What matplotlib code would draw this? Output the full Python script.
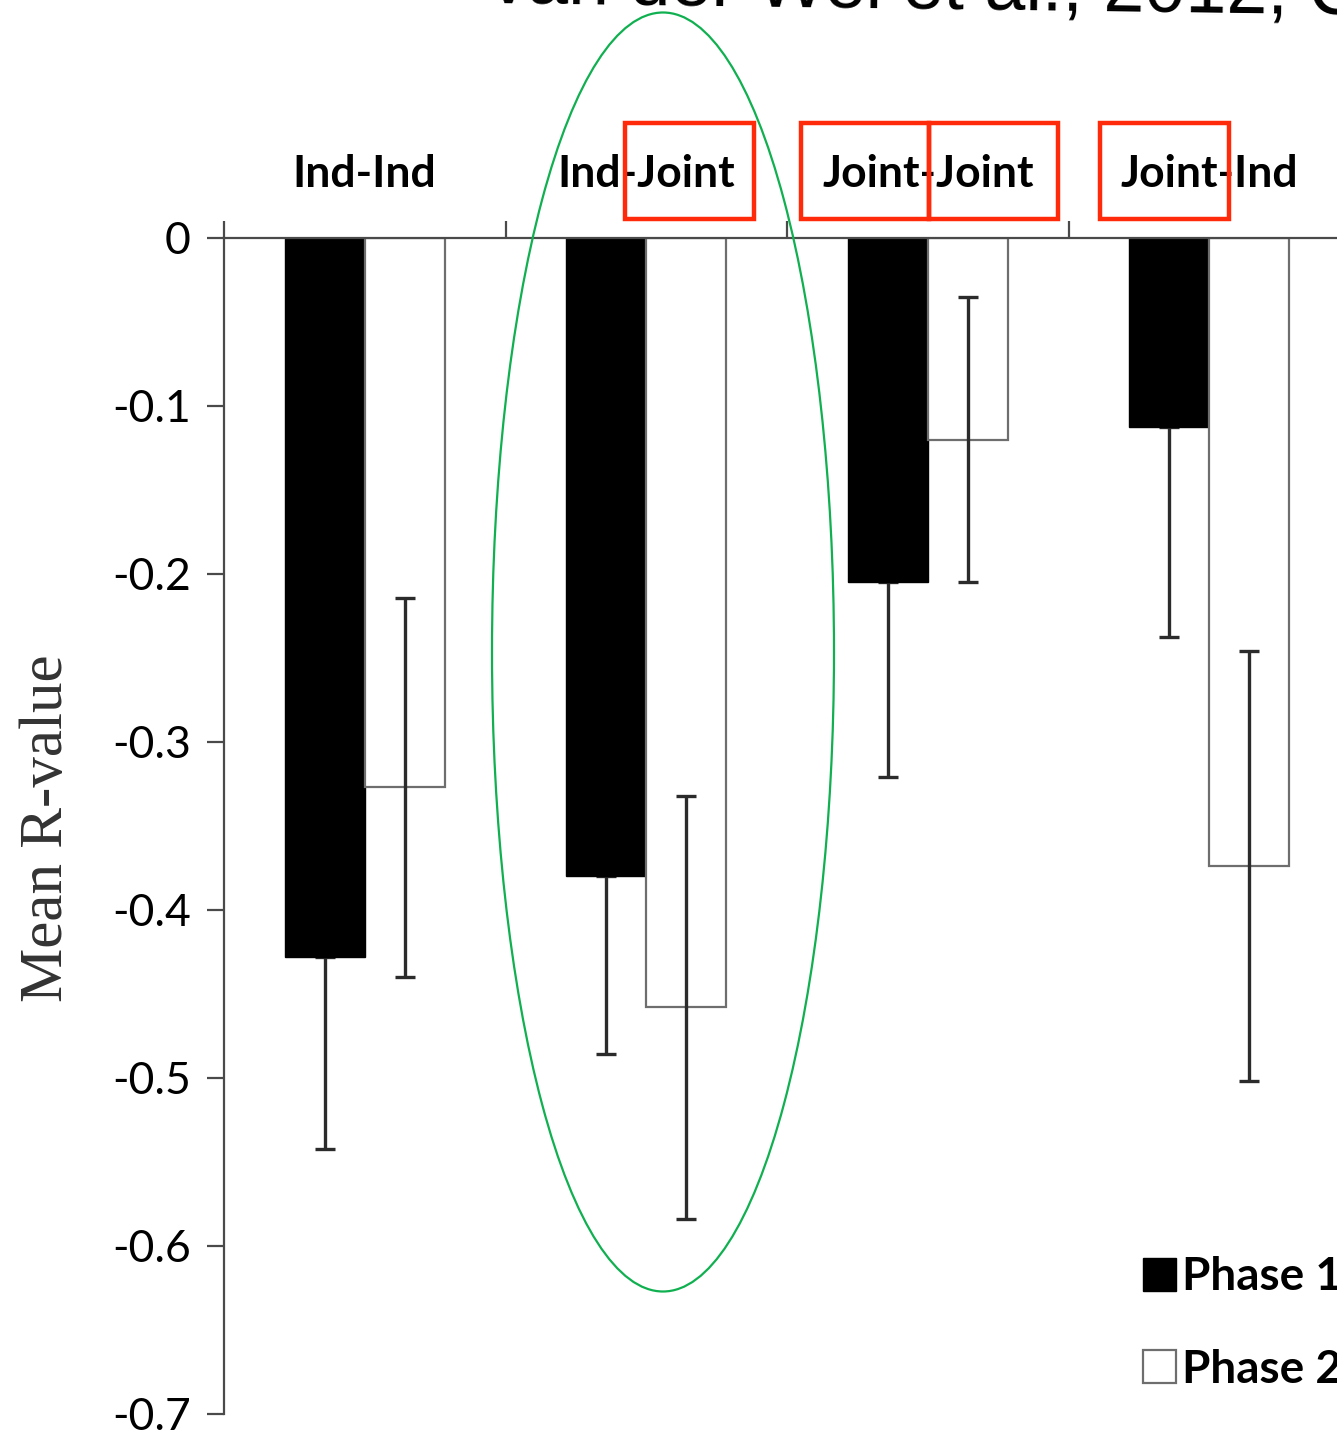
import matplotlib
matplotlib.use("Agg")
import matplotlib.pyplot as plt
from matplotlib.patches import Rectangle, Ellipse
import numpy as np

# data
groups = ["Ind-Ind", "Ind-Joint", "Joint-Joint", "Joint-Ind"]
phase1_mean = [-0.428, -0.380, -0.205, -0.1125]
phase1_err = [0.114, 0.106, 0.116, 0.125]
phase2_mean = [-0.327, -0.458, -0.120, -0.374]
phase2_err = [0.113, 0.126, 0.085, 0.128]
yticks = [0, -0.1, -0.2, -0.3, -0.4, -0.5, -0.6, -0.7]
ytick_labels = ["0", "-0.1", "-0.2", "-0.3", "-0.4", "-0.5", "-0.6", "-0.7"]

W, H = 1337, 1433
fig = plt.figure(figsize=(W / 100, H / 100), dpi=100)
fig.patch.set_facecolor("white")

# axes placed by pixel edges of the reference
left, right, top, bottom = 224, 1350, 238, 1414
ax = fig.add_axes([left / W, 1 - bottom / H, (right - left) / W, (bottom - top) / H])
ax.set_facecolor("none")

x = np.arange(len(groups))
w = 0.285
axis_col = "#4a4a4a"

b1 = ax.bar(x - w / 2, phase1_mean, w, color="black", edgecolor="black",
            linewidth=1, label="Phase 1", zorder=2)
b2 = ax.bar(x + w / 2, phase2_mean, w, color="white", edgecolor="#6e6e6e",
            linewidth=1.6, label="Phase 2", zorder=2)
# upper whisker of the black bars is hidden inside the bar in the original
ax.errorbar(x - w / 2, phase1_mean, yerr=[phase1_err, [0] * len(groups)], fmt="none",
            ecolor="#2b2b2b", elinewidth=2.4, capsize=7.5, capthick=2.4, zorder=1)
ax.errorbar(x + w / 2, phase2_mean, yerr=phase2_err, fmt="none", ecolor="#2b2b2b",
            elinewidth=2.4, capsize=7.5, capthick=2.4, zorder=3)

ax.set_xlim(-0.5, len(groups) - 0.5)
ax.set_ylim(-0.7, 0)

# spines: left axis and zero line on top
for s in ["right", "bottom"]:
    ax.spines[s].set_visible(False)
for s in ["left", "top"]:
    ax.spines[s].set_color(axis_col)
    ax.spines[s].set_linewidth(1.6)

ax.set_yticks(yticks)
ax.set_yticklabels(ytick_labels, fontfamily="Lato", fontsize=32)
ax.tick_params(axis="y", direction="out", length=12, width=1.6, color=axis_col, pad=12)

ax.xaxis.tick_top()
ax.set_xticks(x)
ax.set_xticklabels(groups, fontfamily="Lato", fontweight="bold", fontsize=32)
ax.tick_params(axis="x", which="major", length=0, pad=32)
ax.set_xticks(np.arange(-0.5, len(groups), 1.0), minor=True)
ax.tick_params(axis="x", which="minor", direction="out", length=12, width=1.6,
               color=axis_col, top=True, bottom=False)

fig.text(47 / W, 1 - 828 / H, "Mean R-value", rotation=90, ha="center", va="center",
         fontfamily="Liberation Serif", fontsize=44, color="#333333")

# legend, cut by the right border like the reference
leg = fig.legend(handles=[b1, b2], labels=["Phase 1", "Phase 2"],
                 loc="upper left", bbox_to_anchor=(1102 / W, 1 - 1215 / H),
                 frameon=False, handlelength=0.72, handleheight=0.72,
                 handletextpad=0.12, labelspacing=1.1,
                 prop={"family": "Lato", "weight": "bold", "size": 33})

# title, mostly above the picture edge and slightly tilted
fig.text(490 / W, 1 - 3 / H, "van der Wel et al., 2012, Cognition", ha="left",
         va="baseline", rotation=-0.76, rotation_mode="anchor",
         fontfamily="Liberation Sans", fontsize=53, color="black")

# red boxes and green ellipse annotations
red = "#ff2a0a"
for (x0, x1) in [(625, 754), (801, 929), (929, 1058), (1100, 1229)]:
    fig.add_artist(Rectangle((x0 / W, 1 - 219 / H), (x1 - x0) / W, 96 / H,
                             transform=fig.transFigure, fill=False,
                             edgecolor=red, linewidth=3.2, zorder=5))
fig.add_artist(Ellipse((663 / W, 1 - 652 / H), 342 / W, 1279 / H,
                       transform=fig.transFigure, fill=False,
                       edgecolor="#10b050", linewidth=1.6, zorder=5))

fig.savefig("out.png", dpi=100)
